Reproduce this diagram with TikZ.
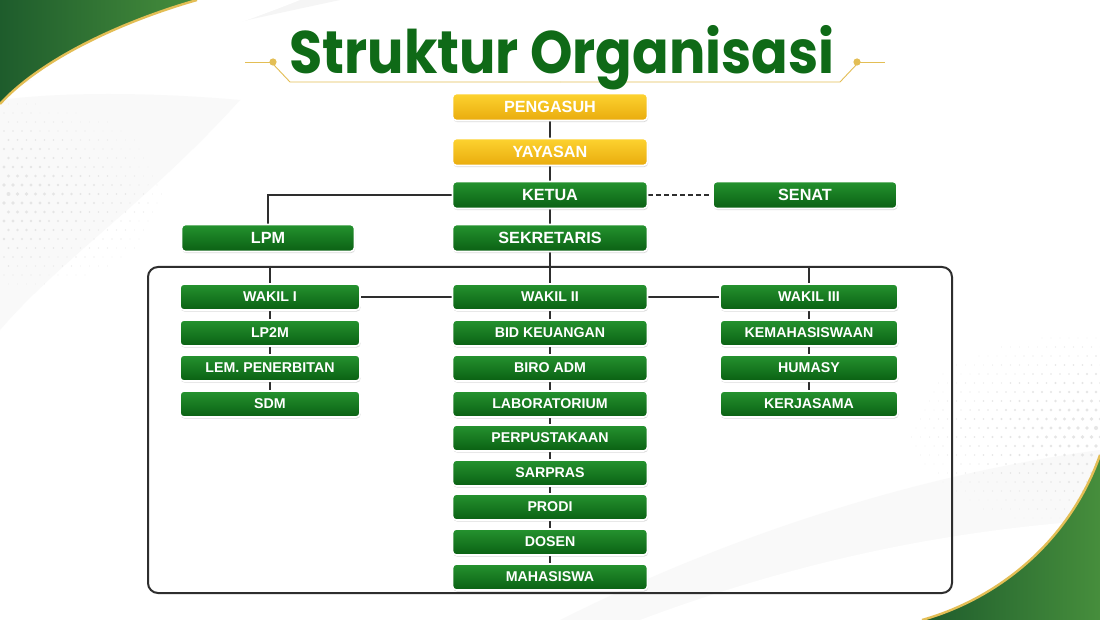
\documentclass[tikz,border=0pt]{standalone}
\usepackage{fontspec}
\setmainfont{Liberation Sans}
\newfontfamily\titlefont{Poppins}
\usetikzlibrary{shadows,calc}
\definecolor{gTop}{HTML}{25932F}
\definecolor{gBot}{HTML}{0A6013}
\definecolor{yTop}{HTML}{FDD330}
\definecolor{yBot}{HTML}{E9AB0D}
\definecolor{lineC}{HTML}{2E2E2E}
\definecolor{titleG}{HTML}{0F6A17}
\definecolor{goldC}{HTML}{E3BE55}
\definecolor{swA}{HTML}{1E5C2C}
\definecolor{swB}{HTML}{468E3C}
\pgfdeclarelayer{bg}
\pgfdeclarelayer{lines}
\pgfsetlayers{bg,lines,main}
\begin{document}
\begin{tikzpicture}[x=1pt,y=-1pt,
  box/.style={rounded corners=4pt, draw=white, line width=1.6pt,
    top color=gTop, bottom color=gBot, text=white,
    font=\bfseries\fontsize{14.2}{15}\selectfont,
    minimum height=26pt, inner sep=0pt,
    drop shadow={shadow xshift=0.6pt, shadow yshift=-1.6pt, opacity=0.28}},
  bigbox/.style={box, minimum width=195pt, minimum height=27pt, font=\bfseries\fontsize{16.2}{17}\selectfont},
  goldbox/.style={bigbox, top color=yTop, bottom color=yBot},
  midbox/.style={box, minimum width=195pt},
  leftbox/.style={box, minimum width=180pt},
  rightbox/.style={box, minimum width=178pt},
  conn/.style={draw=lineC, line width=2.8pt},
  frame/.style={draw=lineC, line width=2pt, rounded corners=10pt, minimum width=804pt, minimum height=326pt, inner sep=0pt}
]
\useasboundingbox (0,0) rectangle (1100,620);
% ---------- background ----------
\begin{pgfonlayer}{bg}
\fill[white] (0,0) rectangle (1100,620);
\fill[black!4] (0,95) .. controls (60,60) and (200,30) .. (340,0) -- (0,0) -- cycle;
\fill[white] (0,85) .. controls (80,75) and (200,40) .. (300,0) -- (0,0) -- cycle;
\fill[black!2.5] (0,100) -- (0,330) .. controls (60,260) and (150,200) .. (240,100) .. controls (150,92) and (60,92) .. (0,100) -- cycle;
\foreach \i in {0,...,24}{\foreach \j in {0,...,24}{%
  \pgfmathsetmacro\px{4+9*\i+4.5*mod(\j,2)}\pgfmathsetmacro\py{95+9*\j}%
  \pgfmathsetmacro\dr{2.1*(1-\px/200)*(1-abs(\py-195)/115)}%
  \ifdim\dr pt>0.35pt \fill[black!10] (\px,\py) circle[radius=\dr];\fi}}
\fill[black!2.5] (560,620) .. controls (760,520) and (950,470) .. (1100,450) -- (1100,620) -- cycle;
\fill[white] (640,620) .. controls (800,560) and (950,530) .. (1100,520) -- (1100,620) -- cycle;
\foreach \i in {0,...,24}{\foreach \j in {0,...,26}{%
  \pgfmathsetmacro\px{880+9*\i+4.5*mod(\j,2)}\pgfmathsetmacro\py{320+9*\j}%
  \pgfmathsetmacro\dr{2.1*((\px-870)/230)*(1-abs(\py-430)/120)}%
  \ifdim\dr pt>0.35pt \fill[black!10] (\px,\py) circle[radius=\dr];\fi}}
% top-left green swoosh
\shade[left color=swA, right color=swB] (0,0) -- (197,0) .. controls (120,22) and (40,60) .. (0,104) -- cycle;
\draw[goldC, line width=2.4pt] (197,0) .. controls (120,22) and (40,60) .. (0,104);
% bottom-right green swoosh
\shade[left color=swA, right color=swB] (1100,455) .. controls (1070,540) and (1000,598) .. (922,620) -- (1100,620) -- cycle;
\draw[goldC, line width=2.4pt] (1100,455) .. controls (1070,540) and (1000,598) .. (922,620);
% title decoration
\draw[goldC, line width=0.9pt] (245,62) -- (270,62);
\draw[goldC, line width=0.9pt] (273,64) -- (290,82) -- (560,82);
\fill[goldC] (273,62) circle[radius=3.6];
\draw[goldC, line width=0.9pt] (860,62) -- (885,62);
\draw[goldC, line width=0.9pt] (857,64) -- (840,82) -- (560,82);
\fill[goldC] (857,62) circle[radius=3.6];
\end{pgfonlayer}
% ---------- title ----------
\node[anchor=base, inner sep=0pt, text=titleG] (title) at (562,74) {\scalebox{0.9}[1]{\titlefont\bfseries\fontsize{60}{66}\selectfont Struktur Organisasi}};
% ---------- frame ----------
\node[frame] (frame) at (550,430) {};
% ---------- nodes ----------
\node[goldbox] (peng) at (550,107) {PENGASUH};
\node[goldbox] (yay) at (550,152) {YAYASAN};
\node[bigbox] (ketua) at (550,195) {KETUA};
\node[bigbox, minimum width=184pt] (senat) at (805,195) {SENAT};
\node[bigbox, minimum width=173pt] (lpm) at (268,238) {LPM};
\node[bigbox] (sekr) at (550,238) {SEKRETARIS};
\node[leftbox] (w1) at (270,297) {WAKIL I};
\node[leftbox] (lp2m) at (270,333) {LP2M};
\node[leftbox] (lem) at (270,368) {LEM. PENERBITAN};
\node[leftbox] (sdm) at (270,404) {SDM};
\node[midbox] (w2) at (550,297) {WAKIL II};
\node[midbox] (keu) at (550,333) {BID KEUANGAN};
\node[midbox] (biro) at (550,368) {BIRO ADM};
\node[midbox] (lab) at (550,404) {LABORATORIUM};
\node[midbox] (pus) at (550,438) {PERPUSTAKAAN};
\node[midbox] (sar) at (550,473) {SARPRAS};
\node[midbox] (prodi) at (550,507) {PRODI};
\node[midbox] (dosen) at (550,542) {DOSEN};
\node[midbox] (mhs) at (550,577) {MAHASISWA};
\node[rightbox] (w3) at (809,297) {WAKIL III};
\node[rightbox] (kema) at (809,333) {KEMAHASISWAAN};
\node[rightbox] (hum) at (809,368) {HUMASY};
\node[rightbox] (ker) at (809,404) {KERJASAMA};
\coordinate (f1) at (w1 |- frame.north);
\coordinate (f3) at (w3 |- frame.north);
% ---------- connectors ----------
\begin{pgfonlayer}{lines}
\draw[conn] (peng) -- (yay);
\draw[conn] (yay) -- (ketua);
\draw[conn] (ketua) -- (sekr);
\draw[conn] (sekr) -- (w2);
\draw[conn] (w2) -- (keu);
\draw[conn] (keu) -- (biro);
\draw[conn] (biro) -- (lab);
\draw[conn] (lab) -- (pus);
\draw[conn] (pus) -- (sar);
\draw[conn] (sar) -- (prodi);
\draw[conn] (prodi) -- (dosen);
\draw[conn] (dosen) -- (mhs);
\draw[conn] (ketua.west) -| (lpm.north);
\draw[conn, dashed, dash pattern=on 5pt off 3pt] (ketua.east) -- (senat.west);
\draw[conn] (f1) -- (w1);
\draw[conn] (w1) -- (lp2m);
\draw[conn] (lp2m) -- (lem);
\draw[conn] (lem) -- (sdm);
\draw[conn] (f3) -- (w3);
\draw[conn] (w3) -- (kema);
\draw[conn] (kema) -- (hum);
\draw[conn] (hum) -- (ker);
\draw[conn] (w1) -- (w2);
\draw[conn] (w2) -- (w3);
\end{pgfonlayer}
\end{tikzpicture}
\end{document}
